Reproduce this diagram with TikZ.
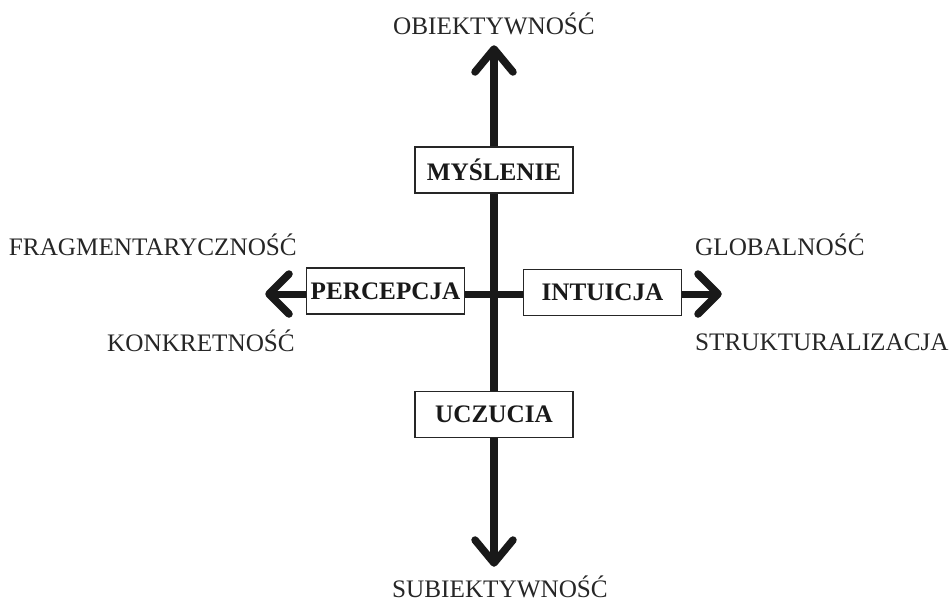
\documentclass[tikz,border=0pt]{standalone}
\usepackage{fontspec}
\setmainfont{Liberation Serif}
\begin{document}
\begin{tikzpicture}[x=1pt,y=-1pt,
  box/.style={draw=black!85, line width=1.4pt, fill=white, minimum width=158pt, minimum height=46pt, inner sep=0pt, font=\fontsize{25.2}{29}\selectfont\bfseries, text=black!90},
  lab/.style={inner sep=0pt, font=\fontsize{25.2}{29}\selectfont, text=black!85},
  axisv/.style={line width=8pt, black!90},
  axish/.style={line width=7pt, black!90},
  chev/.style={line width=7.5pt, black!90, line cap=round, line join=round}]
\useasboundingbox (0,0) rectangle (950,603);
% arrow tips
\coordinate (top) at (494,49);
\coordinate (bot) at (494,563);
\coordinate (lft) at (269,294);
\coordinate (rgt) at (718,294);
% axes
\draw[axisv] (top) -- (bot);
\draw[axish] (lft) -- (rgt);
% chevrons
\draw[chev] (top) ++(-19,23) -- (top) -- ++(19,23);
\draw[chev] (bot) ++(-19,-23) -- (bot) -- ++(19,-23);
\draw[chev] (lft) ++(20,-20) -- (lft) -- ++(20,20);
\draw[chev] (rgt) ++(-20,-20) -- (rgt) -- ++(-20,20);
% boxes
\node[box] (mys) at (494,170) {MYŚLENIE};
\node[box] (ucz) at (494,414.5) {UCZUCIA};
\node[box] (per) at (385.5,291) {PERCEPCJA};
\node[box] (int) at (602.5,292.5) {INTUICJA};
% labels
\node[lab, anchor=base] (obi) at (494,34) {OBIEKTYWNOŚĆ};
\node[lab, anchor=base] (sub) at (500,597) {SUBIEKTYWNOŚĆ};
\node[lab, anchor=base east] (fra) at (297,255) {FRAGMENTARYCZNOŚĆ};
\node[lab, anchor=base east] (kon) at (295,351) {KONKRETNOŚĆ};
\node[lab, anchor=base west] (glo) at (695,255) {GLOBALNOŚĆ};
\node[lab, anchor=base west] (str) at (695,350) {STRUKTURALIZACJA};
\end{tikzpicture}
\end{document}
